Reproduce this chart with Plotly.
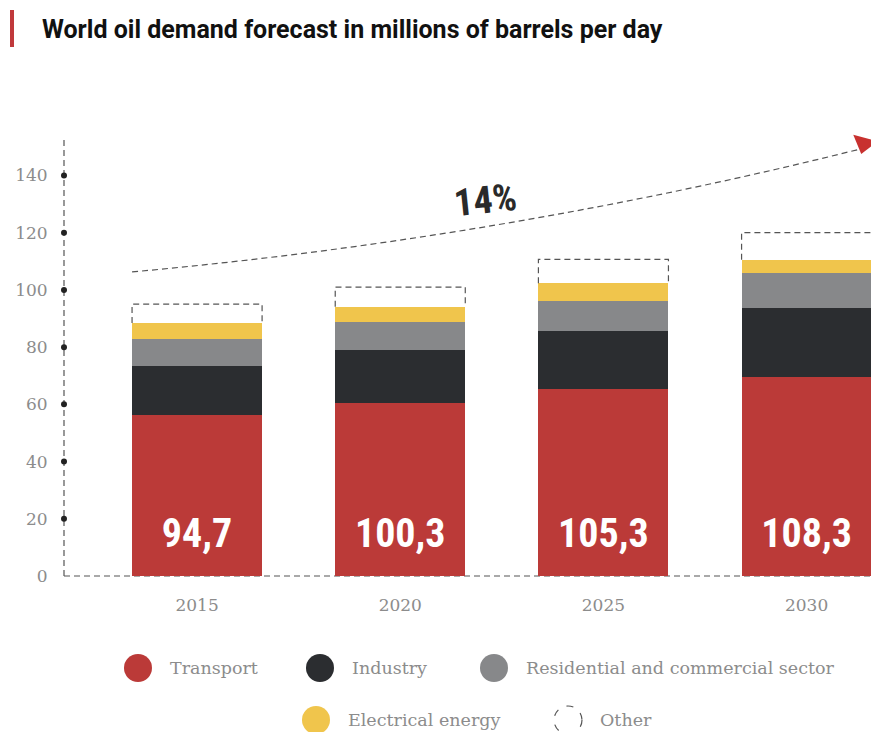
import plotly.graph_objects as go

# ---- data ----
years = ["2015", "2020", "2025", "2030"]
transport = [56.3, 60.6, 65.4, 69.6]
industry = [17.1, 18.4, 20.3, 24.0]
residential = [9.5, 9.7, 10.6, 12.4]
electrical = [5.5, 5.4, 6.0, 4.5]
other = [6.6, 6.9, 8.4, 9.5]
total_labels = ["94,7", "100,3", "105,3", "108,3"]
y_ticks = [0, 20, 40, 60, 80, 100, 120, 140]
growth_label = "14%"

# ---- styles ----
C_RED = "#bb3a38"
C_DARK = "#2b2d30"
C_GRAY = "#87888a"
C_YEL = "#f0c54c"
C_DASH = "#555555"
C_TXT = "#8c8c8c"
SERIF = "DejaVu Serif"
NARROW = ("Noto Sans ExtraCondensed, Noto Sans Condensed, Roboto Condensed, "
          "Liberation Sans Narrow, DejaVu Sans Condensed, sans-serif")

W_PX, H_PX = 871, 732
ML, MR, MT, MB = 64, 0, 138, 156
PW = W_PX - ML - MR
PH = H_PX - MT - MB
XR = [-0.655, 3.317]
YR = [0, 153.1]
BW = 0.64
LABEL_Y = 13.6

def px(x):
    return (x - ML) / PW

def py(y):
    return (H_PX - MB - y) / PH

xs = list(range(len(years)))

fig = go.Figure()
series = [("Transport", transport, C_RED), ("Industry", industry, C_DARK),
          ("Residential and commercial sector", residential, C_GRAY),
          ("Electrical energy", electrical, C_YEL)]
for name, vals, col in series:
    fig.add_trace(go.Bar(x=xs, y=vals, name=name, width=BW,
                         marker=dict(color=col, line=dict(width=0)),
                         showlegend=False, hoverinfo="skip"))
fig.add_trace(go.Bar(x=xs, y=other, name="Other", width=BW,
                     marker=dict(color="rgba(0,0,0,0)", line=dict(width=0)),
                     showlegend=False, hoverinfo="skip"))

# dashed outline of "Other" segment
ox, oy = [], []
for i in xs:
    base = transport[i] + industry[i] + residential[i] + electrical[i]
    top = base + other[i]
    ox += [i - BW / 2, i - BW / 2, i + BW / 2, i + BW / 2, None]
    oy += [base, top, top, base, None]
fig.add_trace(go.Scatter(x=ox, y=oy, mode="lines",
                         line=dict(color=C_DASH, width=1.2, dash="6px,4px"),
                         showlegend=False, hoverinfo="skip"))

# total labels inside bars
fig.add_trace(go.Scatter(x=xs, y=[LABEL_Y] * len(xs), mode="text", text=total_labels,
                         textfont=dict(family=NARROW, size=40, color="white", weight="bold"),
                         showlegend=False, hoverinfo="skip"))

# y-axis dots
fig.add_trace(go.Scatter(x=[XR[0]] * (len(y_ticks) - 1), y=y_ticks[1:], mode="markers",
                         marker=dict(color="#222222", size=6), cliponaxis=False,
                         showlegend=False, hoverinfo="skip"))

# trend curve (quadratic bezier) from above first bar to top-right
x0, y0 = -BW / 2, 106.3
x1, y1 = 3.25, 149.0
cx, cy = 1.5, 118.0
shapes = []
shapes.append(dict(type="path", xref="x", yref="y",
                   path=f"M {x0},{y0} Q {cx},{cy} {x1},{y1}",
                   line=dict(color=C_DASH, width=1.2, dash="6px,4px")))
fig.add_trace(go.Scatter(x=[3.283], y=[151.2], mode="markers",
                         marker=dict(symbol="triangle-down", size=22, color="#c8312f", angle=15),
                         cliponaxis=False, showlegend=False, hoverinfo="skip"))

# dashed axes
shapes.append(dict(type="line", xref="paper", yref="paper", x0=0, x1=0, y0=0, y1=1,
                   line=dict(color=C_DASH, width=1.2, dash="6px,4px"), layer="below"))
shapes.append(dict(type="line", xref="paper", yref="paper", x0=0, x1=1, y0=0, y1=0,
                   line=dict(color=C_DASH, width=1.2, dash="6px,4px"), layer="below"))

# title bar
shapes.append(dict(type="rect", xref="paper", yref="paper", x0=px(10), x1=px(14),
                   y0=py(47), y1=py(10), fillcolor="#c0393b", line=dict(width=0)))

annotations = [
    dict(text="<b>World oil demand forecast in millions of barrels per day</b>",
         xref="paper", yref="paper", x=px(40), y=py(30), xanchor="left", yanchor="middle",
         showarrow=False, font=dict(family="Roboto", size=25, color="#111111")),
    dict(text=f"<b>{growth_label}</b>", xref="paper", yref="paper", x=px(485), y=py(200),
         xanchor="center", yanchor="middle", showarrow=False, textangle=-6,
         font=dict(family=NARROW, size=38, color="#2a2a2a")),
]

# manual legend
legend_items = [
    ("Transport", C_RED, 138, 668),
    ("Industry", C_DARK, 320, 668),
    ("Residential and commercial sector", C_GRAY, 494, 668),
    ("Electrical energy", C_YEL, 316, 720),
    ("Other", None, 568, 720),
]
for name, col, cxp, cyp in legend_items:
    if col:
        shapes.append(dict(type="circle", xref="paper", yref="paper",
                           xsizemode="pixel", ysizemode="pixel",
                           xanchor=px(cxp), yanchor=py(cyp),
                           x0=-14, x1=14, y0=-14, y1=14,
                           fillcolor=col, line=dict(width=0)))
    else:
        shapes.append(dict(type="circle", xref="paper", yref="paper",
                           xsizemode="pixel", ysizemode="pixel",
                           xanchor=px(cxp), yanchor=py(cyp),
                           x0=-14, x1=14, y0=-14, y1=14,
                           fillcolor="rgba(0,0,0,0)",
                           line=dict(width=1.2, color=C_DASH, dash="7px,9px")))
    annotations.append(dict(text=name, xref="paper", yref="paper", x=px(cxp + 30), y=py(cyp),
                            xanchor="left", yanchor="middle", showarrow=False,
                            font=dict(family=SERIF, size=17.5, color=C_TXT)))

fig.update_layout(
    width=W_PX, height=H_PX, barmode="stack", bargap=0,
    margin=dict(l=ML, r=MR, t=MT, b=MB, pad=0),
    plot_bgcolor="white", paper_bgcolor="white",
    shapes=shapes, annotations=annotations, showlegend=False,
    xaxis=dict(range=XR, tickvals=xs, ticktext=years, showgrid=False, zeroline=False,
               showline=False, ticks="outside", ticklen=14, tickcolor="rgba(0,0,0,0)",
               tickfont=dict(family=SERIF, size=17, color=C_TXT), fixedrange=True),
    yaxis=dict(range=YR, tickvals=y_ticks, showgrid=False, zeroline=False, showline=False,
               ticks="outside", ticklen=12, tickcolor="rgba(0,0,0,0)",
               tickfont=dict(family=SERIF, size=17, color=C_TXT), fixedrange=True),
)

fig.write_html(
    "out.html",
    config={"displayModeBar": False},
    post_script="document.body.style.margin='0';document.body.style.overflow='hidden';",
)
